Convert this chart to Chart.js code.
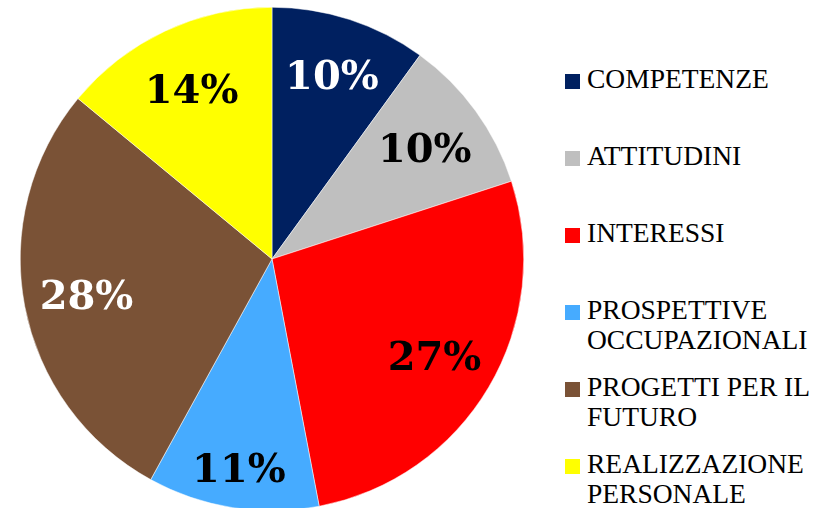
<!DOCTYPE html>
<html>
<head>
<meta charset="utf-8">
<script src="https://cdn.jsdelivr.net/npm/chart.js@4"></script>
<style>
  html, body { margin: 0; padding: 0; background: #fff; width: 832px; height: 508px; overflow: hidden; }
  #wrap { position: absolute; left: 20px; top: 7px; width: 504px; height: 504px; }
  #legend { position: absolute; left: 565px; top: 64px; font-family: "Liberation Serif", "Times New Roman", serif; font-size: 27.5px; line-height: 30px; color: #000; }
  .item { position: relative; height: 77px; padding-left: 22px; white-space: nowrap; }
  .sw { position: absolute; left: 0; top: 10px; width: 15px; height: 15px; }
</style>
</head>
<body>
<div id="wrap"><canvas id="c"></canvas></div>
<div id="legend"></div>
<script>
const categories = ["COMPETENZE", "ATTITUDINI", "INTERESSI", "PROSPETTIVE OCCUPAZIONALI", "PROGETTI PER IL FUTURO", "REALIZZAZIONE PERSONALE"];
const legendLines = [["COMPETENZE"], ["ATTITUDINI"], ["INTERESSI"], ["PROSPETTIVE", "OCCUPAZIONALI"], ["PROGETTI PER IL", "FUTURO"], ["REALIZZAZIONE", "PERSONALE"]];
const values = [10, 10, 27, 11, 28, 14];
const colors = ["#002060", "#BFBFBF", "#FF0000", "#46ABFF", "#7A5236", "#FFFF00"];
const labelColors = ["#FFFFFF", "#000000", "#000000", "#000000", "#FFFFFF", "#000000"];
const labelRadius = [0.77, 0.75, 0.75, 0.84, 0.75, 0.75];

const pctLabels = {
  id: 'pctLabels',
  afterDatasetsDraw(chart) {
    const ctx = chart.ctx;
    const meta = chart.getDatasetMeta(0);
    const total = values.reduce((a, b) => a + b, 0);
    ctx.save();
    ctx.font = 'bold 40px "DejaVu Serif", serif';
    ctx.textAlign = 'center';
    ctx.textBaseline = 'middle';
    meta.data.forEach((arc, i) => {
      const p = arc.getProps(['x', 'y', 'startAngle', 'endAngle', 'outerRadius'], true);
      const mid = (p.startAngle + p.endAngle) / 2;
      const r = p.outerRadius * labelRadius[i];
      const x = p.x + Math.cos(mid) * r;
      const y = p.y + Math.sin(mid) * r + 4;
      ctx.fillStyle = labelColors[i];
      ctx.fillText(Math.round(values[i] / total * 100) + '%', x, y);
    });
    ctx.restore();
  }
};

new Chart(document.getElementById('c'), {
  type: 'pie',
  data: {
    labels: categories,
    datasets: [{
      data: values,
      backgroundColor: colors,
      borderColor: '#FFFFFF',
      borderWidth: 0.5
    }]
  },
  options: {
    responsive: true,
    maintainAspectRatio: false,
    animation: false,
    layout: { padding: 0 },
    plugins: {
      legend: { display: false },
      tooltip: { enabled: false }
    }
  },
  plugins: [pctLabels]
});

const legend = document.getElementById('legend');
legendLines.forEach((lines, i) => {
  const item = document.createElement('div');
  item.className = 'item';
  const sw = document.createElement('span');
  sw.className = 'sw';
  sw.style.background = colors[i];
  item.appendChild(sw);
  lines.forEach(t => {
    const d = document.createElement('div');
    d.textContent = t;
    item.appendChild(d);
  });
  legend.appendChild(item);
});
</script>
</body>
</html>
